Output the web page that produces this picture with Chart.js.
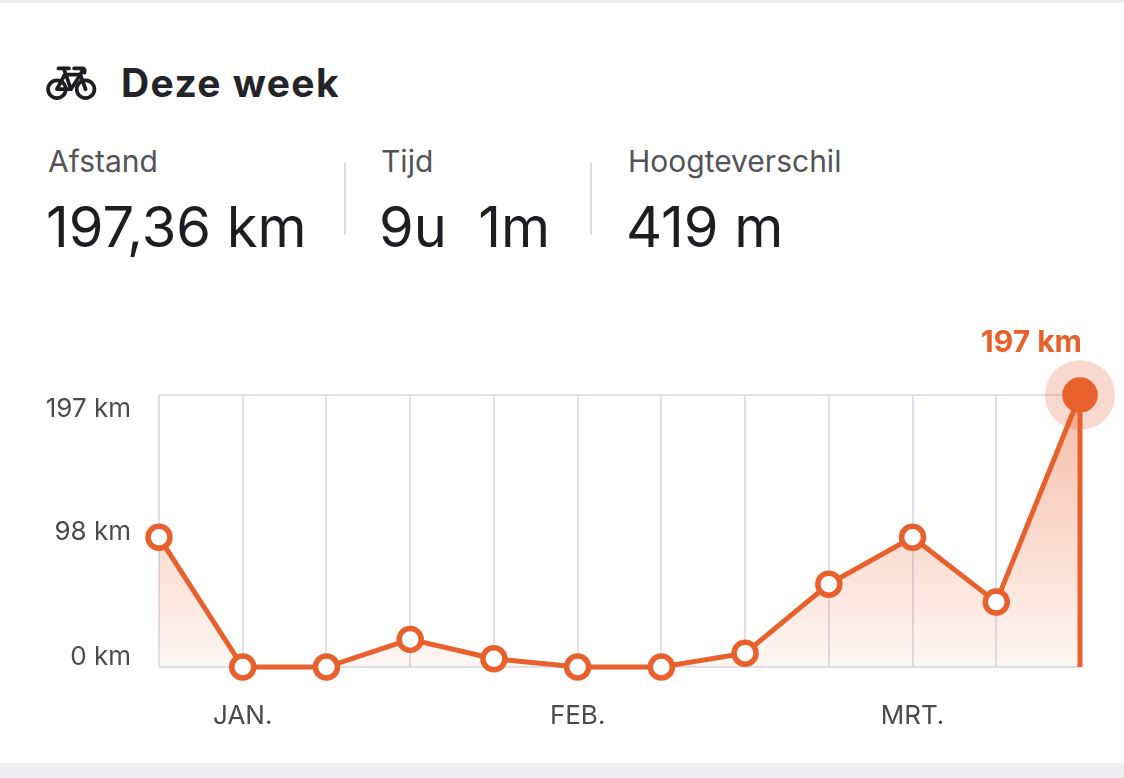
<!DOCTYPE html>
<html>
<head>
<meta charset="utf-8">
<script src="https://cdn.jsdelivr.net/npm/chart.js@4.4.1/dist/chart.umd.min.js"></script>
<style>
  html, body { margin: 0; padding: 0; background: #fff; }
  body { width: 1124px; height: 778px; position: relative; overflow: hidden; font-family: Inter, sans-serif; color: #242428; }
  .topbar { position: absolute; left: 0; top: 0; width: 1124px; height: 3px; background: #ededf0; }
  .bottombar { position: absolute; left: 0; top: 763px; width: 1124px; height: 15px; background: #efeff2; }
  .abs { position: absolute; white-space: pre; line-height: 1; }
  .title { left: 121px; top: 63px; font-size: 39px; font-weight: 700; letter-spacing: 1.4px; }
  .label { top: 146px; font-size: 30px; color: #545458; }
  .value { top: 199px; font-size: 56px; color: #1e1e22; }
  .sep { position: absolute; top: 163px; width: 2px; height: 72px; background: #dcdce0; }
  #bike { position: absolute; left: 46px; top: 65px; }
  #weekChart { position: absolute; left: 0; top: 300px; }
</style>
</head>
<body>
<div class="topbar"></div>

<svg id="bike" width="51" height="36" viewBox="0 0 49 34" fill="none" stroke="#1e1e22" stroke-width="3.6" stroke-linecap="round" stroke-linejoin="round">
  <circle cx="10.5" cy="23" r="8.5"/>
  <circle cx="38" cy="23" r="8.5"/>
  <path d="M12 3 H22"/>
  <path d="M17 3 L24 23 H10.5 L18 9 H33 L24 23"/>
  <path d="M27 3 H35 Q38 3 37 7 M33 9 L38 23 M35 5 L33 9"/>
</svg>
<div class="abs title">Deze week</div>

<div class="abs label" style="left:48px">Afstand</div>
<div class="abs value" style="left:46px">197,36 km</div>
<div class="sep" style="left:344px"></div>
<div class="abs label" style="left:381px">Tijd</div>
<div class="abs value" style="left:379px">9u  1m</div>
<div class="sep" style="left:590px"></div>
<div class="abs label" style="left:628px">Hoogteverschil</div>
<div class="abs value" style="left:626px">419 m</div>

<canvas id="weekChart" width="1124" height="460"></canvas>
<div class="bottombar"></div>

<script>
// weken (laatste = deze week)
const weekLabels = ["", "JAN.", "", "", "", "FEB.", "", "", "", "MRT.", "", ""];
const weekDistance = [94, 0, 0, 20, 6, 0, 0, 10, 60, 94, 47, 197];
const yTickValues = [0, 98, 197];
const yTickLabels = ["0 km", "98 km", "197 km"];

const orange = "#E8602C";
const gridColor = "#e0e0e8";
const tickColor = "#4a4a4f";
const lastIndex = weekDistance.length - 1;

// halo, verticale lijn en label bij deze week
const currentWeek = {
  id: "currentWeek",
  beforeDatasetsDraw(chart) {
    const { ctx } = chart;
    const pt = chart.getDatasetMeta(0).data[lastIndex];
    ctx.save();
    ctx.fillStyle = "rgba(232, 96, 44, 0.24)";
    ctx.beginPath();
    ctx.arc(pt.x, pt.y, 35, 0, Math.PI * 2);
    ctx.fill();
    ctx.restore();
  },
  afterDatasetsDraw(chart) {
    const { ctx, chartArea } = chart;
    const pt = chart.getDatasetMeta(0).data[lastIndex];
    ctx.save();
    ctx.strokeStyle = orange;
    ctx.lineWidth = 5;
    ctx.beginPath();
    ctx.moveTo(pt.x, pt.y);
    ctx.lineTo(pt.x, chartArea.bottom);
    ctx.stroke();
    ctx.font = "bold 30px Inter";
    ctx.fillStyle = orange;
    ctx.textAlign = "right";
    ctx.textBaseline = "alphabetic";
    ctx.fillText(weekDistance[lastIndex] + " km", pt.x + 2, pt.y - 43);
    ctx.restore();
  },
};

var ctx = document.getElementById("weekChart").getContext("2d");
var myChart = new Chart(ctx, {
  type: "line",
  plugins: [currentWeek],
  data: {
    labels: weekLabels,
    datasets: [
      {
        data: weekDistance,
        borderColor: orange,
        borderWidth: 5,
        tension: 0,
        fill: "origin",
        clip: false,
        backgroundColor: function (context) {
          const area = context.chart.chartArea;
          if (!area) return "rgba(232, 96, 44, 0.2)";
          const g = context.chart.ctx.createLinearGradient(0, area.top, 0, area.bottom);
          g.addColorStop(0, "rgba(232, 96, 44, 0.42)");
          g.addColorStop(1, "rgba(232, 96, 44, 0.05)");
          return g;
        },
        pointRadius: (c) => (c.dataIndex === lastIndex ? 15 : 11),
        pointBorderWidth: 5.5,
        pointBorderColor: orange,
        pointBackgroundColor: (c) => (c.dataIndex === lastIndex ? orange : "#ffffff"),
      },
    ],
  },
  options: {
    responsive: false,
    animation: false,
    layout: { padding: { top: 95, right: 44, left: 0, bottom: 0 } },
    plugins: {
      legend: { display: false },
      tooltip: { enabled: false },
    },
    scales: {
      x: {
        offset: false,
        afterFit: (scale) => { scale.height = 93; },
        border: { display: false },
        grid: { color: gridColor, lineWidth: 2, drawTicks: false },
        ticks: {
          autoSkip: false,
          maxRotation: 0,
          padding: 34,
          color: tickColor,
          font: { family: "Inter", size: 26 },
        },
      },
      y: {
        min: 0,
        max: 197,
        afterBuildTicks: (scale) => {
          scale.ticks = yTickValues.map((v) => ({ value: v }));
        },
        afterFit: (scale) => { scale.width = 159; },
        border: { display: false },
        grid: {
          color: (c) => (c.tick && c.tick.value === 98 ? "rgba(0,0,0,0)" : gridColor),
          lineWidth: 2,
          drawTicks: false,
        },
        ticks: {
          padding: 28,
          color: tickColor,
          font: (c) => ({
            family: "Inter",
            size: 26,
            lineHeight: c.index === 0 ? 0.75 : 1.1,
          }),
          callback: function (value, index, ticks) {
            const t = yTickLabels[index];
            if (index === 0) return [t, ""];
            if (index === ticks.length - 1) return ["", t];
            return t;
          },
        },
      },
    },
  },
});
</script>
</body>
</html>
